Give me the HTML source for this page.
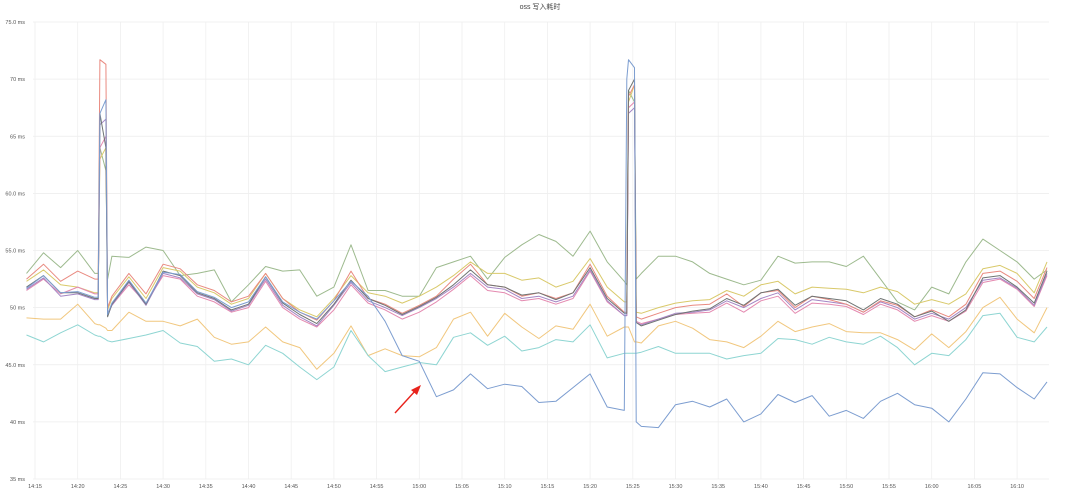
<!DOCTYPE html>
<html><head><meta charset="utf-8">
<style>
html,body{margin:0;padding:0;background:#fff;}
svg{display:block;font-family:"Liberation Sans","Noto Sans CJK SC",sans-serif;}
</style></head>
<body>
<svg id="chart" width="1080" height="494" viewBox="0 0 1080 494" xmlns="http://www.w3.org/2000/svg">
<rect width="1080" height="494" fill="#fff"/>
<text x="540" y="9" text-anchor="middle" font-size="7" fill="#444">oss 写入耗时</text>
<g id="grid"></g><g id="series"></g>
<g>
<line x1="395" y1="413" x2="416" y2="390" stroke="#e8231c" stroke-width="1.4"/>
<polygon points="421,385 411,390 417,395" fill="#e8231c"/>
</g>
</svg>
<script>
const yTicks=[75,70,65,60,55,50,45,40,35];
const yTickLabels=["75.0 ms","70 ms","65 ms","60.0 ms","55.0 ms","50 ms","45.0 ms","40 ms","35 ms"];
const xTickLabels=["14:15","14:20","14:25","14:30","14:35","14:40","14:45","14:50","14:55","15:00","15:05","15:10","15:15","15:20","15:25","15:30","15:35","15:40","15:45","15:50","15:55","16:00","16:05","16:10"];
// minutes after 14:15
const times=[-1,1,3,5,7,7.4,7.6,8.3,8.5,9,11,13,15,17,19,21,23,25,27,29,31,33,35,37,39,41,43,45,47,49,51,53,55,57,59,61,63,65,67,69,69.3,69.5,70.2,70.4,71,73,75,77,79,81,83,85,87,89,91,93,95,97,99,101,103,105,107,109,111,113,115,117,118.5];
const green=[53,54.8,53.5,55,53,53,64,62,52.5,54.5,54.4,55.3,55,52.8,53,53.3,50.5,52,53.6,53.2,53.3,51,51.8,55.5,51.5,51.5,51,51,53.5,54,54.5,52.5,54.4,55.5,56.4,55.8,54.5,56.7,54,52.3,52,69,68,52.5,53,54.5,54.5,54,53,52.5,52,52.4,54.5,53.9,54,54,53.6,54.5,52.5,50.5,49.8,51.8,51.2,54,56,55,54,52.5,53.3];
const orange=[49.1,49,49,50.3,48.6,48.5,48.5,48.2,48,48,49.6,48.8,48.8,48.4,49,47.4,46.8,47,48.3,47,46.5,44.6,46,48.4,45.8,46.4,45.8,45.7,46.5,49,49.6,47.5,49.5,48.3,47.3,48.4,48.1,50.3,47.5,48.3,48.3,48.3,47,47,46.9,48.4,48.8,48.2,47.2,47,46.5,47.5,48.8,47.9,48.3,48.6,47.9,47.8,47.8,47.2,46.3,47.7,46.5,47.9,50,50.9,49,47.8,50];
const cyan=[47.6,47,47.8,48.5,47.6,47.5,47.5,47.2,47.1,47,47.3,47.6,48,46.9,46.6,45.3,45.5,45,46.7,46,44.8,43.7,44.8,48,45.8,44.4,44.8,45.2,45,47.4,47.8,46.7,47.5,46.2,46.5,47.2,47,48.5,45.6,46,46,46,46,46,46.1,46.6,46,46,46,45.5,45.8,46,47.3,47.2,46.8,47.4,47,46.8,47.5,46.5,45,46,45.8,47.2,49.3,49.5,47.4,47,48.3];
const blue=[51.7,52.8,51.3,51.4,50.9,50.9,67,68.2,49.4,50.4,52.4,50.4,53.1,52.9,51.4,50.9,50,50.5,52.7,50.5,49.6,49,50.6,52.3,51,48.8,45.8,45.3,42.2,42.8,44.2,42.9,43.3,43.1,41.7,41.8,43,44.2,41.3,41,70,71.7,71,40,39.6,39.5,41.5,41.8,41.3,42,40,40.7,42.4,41.7,42.3,40.5,41,40.3,41.8,42.5,41.5,41.2,40,42,44.3,44.2,43,42,43.5];
const red=[52.5,53.8,52.3,53.2,52.5,52.5,71.7,71.3,50,51,53,51.2,53.8,53.4,52,51.5,50.5,51,53,50.8,49.6,48.9,50.6,53.2,50.8,50.3,49.5,50.2,51,52.5,53.8,52,51.8,51,51.3,50.8,51.3,53.8,51,49.6,49.6,68.5,69.5,49.2,49,49.5,50,50.2,50.3,51.2,50.1,51.3,51.5,50,51,50.7,50.3,49.6,50.6,50.2,49.2,49.8,49.2,50.3,53,53.2,52.3,50.8,53.5];
const purple=[51.6,52.6,51,51.2,50.7,50.7,66,66.5,49.3,50.2,52.2,50.2,53,52.6,51.2,50.7,49.7,50.2,52.5,50.2,49.2,48.4,50.2,52.2,50.6,50,49.3,50,50.8,51.8,53,51.8,51.6,50.8,51,50.5,51,53.3,50.6,49.3,49.3,67,67.5,48.7,48.5,49,49.5,49.6,49.8,50.6,50,50.8,51.3,49.8,50.7,50.5,50.3,49.6,50.5,50,49,49.5,49,50,52.4,52.6,51.7,50.2,53];
const gray=[51.8,52.8,51.3,51.3,50.8,50.8,67,64,49.2,50.3,52.3,50.3,53.2,52.8,51.3,50.8,49.8,50.3,52.7,50.4,49.4,48.6,50.3,52.4,50.8,50.2,49.4,50.1,50.9,52,53.3,52,51.8,51.1,51.3,50.7,51.3,53.5,50.8,49.5,49.5,69,70,48.7,48.4,48.9,49.4,49.7,49.9,50.8,50.2,51.3,51.6,50.2,51,50.8,50.6,49.8,50.8,50.3,49.2,49.7,48.8,49.8,52.6,52.8,51.8,50.4,53.2];
const pink=[51.5,52.5,51.2,51.8,51.2,51.2,64,65,49.5,50.2,52,50.4,52.8,52.5,51,50.5,49.6,50,52.3,50,49,48.3,49.8,52,50.4,49.8,49,49.6,50.5,51.6,52.8,51.5,51.3,50.6,50.8,50.3,50.8,53.2,50.5,49.3,49.3,67.5,68,48.8,48.6,49,49.4,49.5,49.6,50.4,49.6,50.6,51,49.5,50.4,50.3,50.1,49.4,50.3,49.8,48.8,49.3,48.8,49.7,52.2,52.5,51.6,50.1,52.8];
const gold=[52.3,53.3,52,51.8,51.3,51.3,63,64,49.8,50.8,52.7,50.8,53.5,53.2,51.8,51.3,50.3,50.8,53,50.8,49.8,49.2,50.8,52.8,51.3,51,50.4,51,51.8,52.8,54,53,53,52.4,52.6,51.8,52.3,54.3,51.8,50.5,50.5,68,69.5,49.6,49.5,50,50.4,50.6,50.7,51.5,51,52,52.3,51.2,51.8,51.7,51.6,51.3,51.8,51.4,50.3,50.7,50.3,51.2,53.4,53.7,53,51.3,54];

const NS="http://www.w3.org/2000/svg";
const X0=35, PX_PER_MIN=8.54, Y_TOP=22, Y_BOT=479, VMAX=75, VMIN=35;
function xs(m){return X0+m*PX_PER_MIN;}
function ys(v){return Y_TOP+(VMAX-v)/(VMAX-VMIN)*(Y_BOT-Y_TOP);}
const grid=document.getElementById('grid');
yTicks.forEach((v,i)=>{
  const l=document.createElementNS(NS,'line');
  l.setAttribute('x1',33);l.setAttribute('x2',1049);l.setAttribute('y1',ys(v));l.setAttribute('y2',ys(v));
  l.setAttribute('stroke','#ececec');l.setAttribute('stroke-width','0.8');
  
  
  grid.appendChild(l);
  const t=document.createElementNS(NS,'text');
  t.setAttribute('x',25);t.setAttribute('y',ys(v)+2);t.setAttribute('text-anchor','end');
  t.setAttribute('font-size','5.5');t.setAttribute('fill','#555');
  t.textContent=yTickLabels[i];
  
  
  grid.appendChild(t);
});
xTickLabels.forEach((s,i)=>{
  const x=xs(i*5);
  const l=document.createElementNS(NS,'line');
  l.setAttribute('x1',x);l.setAttribute('x2',x);l.setAttribute('y1',Y_TOP);l.setAttribute('y2',Y_BOT);
  l.setAttribute('stroke','#efefef');l.setAttribute('stroke-width','0.8');
  
  
  grid.appendChild(l);
  const t=document.createElementNS(NS,'text');
  t.setAttribute('x',x);t.setAttribute('y',488);t.setAttribute('text-anchor','middle');
  t.setAttribute('font-size','5.5');t.setAttribute('fill','#555');
  t.textContent=s;
  
  
  grid.appendChild(t);
});
const seriesG=document.getElementById('series');
function draw(vals,color,name){
  const p=document.createElementNS(NS,'path');
  let d='';
  vals.forEach((v,i)=>{d+=(i?'L':'M')+xs(times[i]).toFixed(1)+' '+ys(v).toFixed(1);});
  p.setAttribute('d',d);p.setAttribute('fill','none');p.setAttribute('stroke',color);
  p.setAttribute('stroke-width','1');p.setAttribute('stroke-linejoin','round');
  
  
  seriesG.appendChild(p);
}
draw(green,'#9dba8e','series-green');
draw(orange,'#f1c77e','series-orange');
draw(cyan,'#8ed5d2','series-cyan');
draw(gold,'#d9c96a','series-gold');
draw(pink,'#e48ab0','series-pink');
draw(purple,'#a486c4','series-purple');
draw(red,'#e98a80','series-red');
draw(gray,'#6f7473','series-gray');
draw(blue,'#7c9dd0','series-blue');
</script>
</body></html>
